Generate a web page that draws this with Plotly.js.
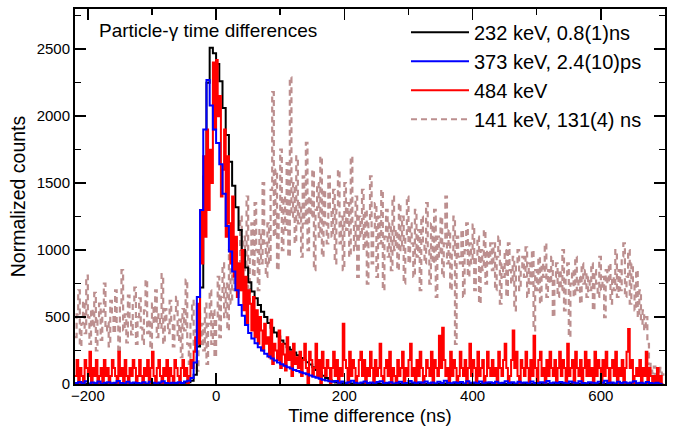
<!DOCTYPE html>
<html>
<head>
<meta charset="utf-8">
<script src="https://cdn.plot.ly/plotly-3.0.1.min.js"></script>
<style>html,body{margin:0;padding:0;background:#fff}#chart{width:673px;height:426px}</style>
</head>
<body>
<div id="chart"></div>
<script>
// Histogram bins: first bin start (ns) and bin widths (ns)
const binStart = -220;
const binWidthSmooth = 5;   // 232 keV and 373 keV spectra
const binWidthFine = 2.5;   // 484 keV and 141 keV spectra

// 232 keV, 0.8(1) ns  (black), 5 ns bins
const counts232 = [
  2,0,3,1,0,2,4,1,0,2,
  1,3,0,2,5,1,0,2,3,1,
  0,2,1,4,2,0,3,1,2,5,
  3,6,4,8,10,14,25,70,280,720,
  1550,2250,2510,2470,2390,2260,2060,1860,1660,1480,
  1320,1150,1000,870,760,690,640,590,540,500,
  455,420,385,355,325,300,275,255,235,215,
  195,180,163,145,125,105,85,62,45,30,
  20,12,7,5,3,2,4,1,2,0,
  2,1,0,3,1,0,2,1,0,1,
  0,2,1,0,3,1,0,2,1,0,
  1,0,2,1,0,3,1,0,2,1,
  0,1,3,0,2,1,0,1,2,0,
  2,0,1,3,0,1,2,0,1,0,
  1,2,0,1,0,3,1,0,2,1,
  0,1,2,0,1,0,2,1,0,3,
  1,0,2,1,0,1,3,0,1,2,
  0,2,1,0,3,1,0,2,1,0,
  1,0,2,0
];

// 373 keV, 2.4(10) ps  (blue), 5 ns bins
const counts373 = [
  8,15,5,20,3,12,6,18,2,10,
  14,4,9,22,7,3,16,5,11,8,
  6,13,2,17,9,4,12,20,7,3,
  10,5,14,8,18,25,45,160,650,1300,
  1900,2270,2080,1900,1800,1640,1420,1180,990,840,
  700,590,510,440,380,340,305,275,250,225,
  205,190,175,160,148,136,125,115,105,97,
  88,80,72,64,55,47,40,32,26,20,
  16,22,10,18,6,14,25,9,4,12,
  18,7,11,3,15,20,6,9,13,2,
  10,17,4,8,22,12,5,14,9,19,
  6,11,3,16,8,24,10,5,13,7,
  15,4,20,9,12,6,18,3,11,14,
  8,16,5,10,21,7,13,4,17,9,
  12,3,19,8,6,14,10,22,5,11,
  7,15,9,4,18,12,6,20,8,3,
  13,10,5,17,9,25,7,12,4,16,
  8,14,6,11,20,5,10,3,15,7,
  4,9,2,6
];

// 484 keV  (red), 2.5 ns bins
const counts484 = [
  60,180,0,120,60,0,180,120,60,240,0,120,60,180,0,60,120,0,180,60,
  120,0,60,180,120,60,0,240,60,120,0,180,60,0,120,60,180,120,0,60,
  180,60,0,120,60,180,0,120,240,60,0,120,180,60,0,120,60,180,0,120,
  60,0,180,120,60,0,120,180,60,120,0,60,180,120,240,350,600,300,1300,900,
  1700,1100,1900,1300,1750,1500,2400,1900,2420,2000,2150,1400,1600,1900,1100,1700,1200,900,1400,800,
  1100,650,900,700,1000,550,800,450,700,600,400,650,350,550,300,500,400,250,450,300,
  350,200,480,150,300,250,180,400,120,300,220,100,350,180,240,60,300,150,200,120,
  240,60,180,300,120,0,240,180,60,120,300,60,180,0,240,120,60,180,120,0,
  120,240,60,180,0,120,60,450,180,120,0,240,60,180,120,0,60,180,240,60,
  180,0,120,60,240,120,0,180,60,120,300,60,0,120,180,60,240,0,120,60,
  0,180,60,120,240,0,120,60,180,300,60,120,0,180,60,240,120,0,60,180,
  120,60,240,0,180,120,60,360,120,420,180,60,120,0,240,60,180,120,0,60,
  240,120,60,180,0,120,300,60,180,120,0,240,60,120,180,0,60,240,120,60,
  180,60,120,0,240,120,60,180,300,120,0,60,180,400,120,240,60,0,180,120,
  60,240,120,0,180,60,360,120,0,180,240,60,120,0,180,60,240,120,60,180,
  0,120,240,60,180,120,0,300,60,120,180,0,240,120,60,180,0,120,240,60,
  180,60,120,0,240,60,180,120,0,180,60,240,120,0,120,180,60,240,0,120,
  60,180,0,120,240,410,120,180,0,60,120,60,180,0,120,60,240,0,120,60,
  0,60,0,120,0,60,0,0
];

// 141 keV, 131(4) ns  (brown, dashed), 2.5 ns bins
const counts141 = [
  350,520,700,280,450,620,380,810,500,300,560,420,680,250,480,600,330,540,750,400,
  460,280,620,520,380,700,450,230,580,850,400,520,310,660,480,370,590,720,300,500,
  640,420,300,550,780,380,480,260,600,450,700,350,520,420,820,300,560,470,380,620,
  450,280,520,650,330,480,200,560,400,780,300,150,480,620,250,400,100,550,300,450,
  250,600,150,450,700,300,550,200,480,800,350,650,900,500,750,400,1000,600,850,700,
  1050,650,900,1250,700,1100,850,1400,600,950,1200,800,1350,1000,700,1150,900,1500,1050,800,
  1200,900,1450,2180,1100,1600,850,1300,1750,1000,1400,1150,1650,950,2290,1250,1500,1050,1700,1200,
  1350,950,1550,1200,1800,1000,1400,1250,1600,850,1300,1500,1100,1700,950,1450,1200,1050,1550,1300,
  1100,1450,900,1300,1600,1050,1250,850,1500,1150,1350,950,1700,1200,1000,1400,800,1250,1100,1450,
  1000,1300,750,1200,1550,900,1150,1350,800,1250,1050,1450,700,1100,1300,950,1200,850,1400,1000,
  1150,850,1350,1000,1250,750,1100,1400,900,1200,1050,800,1300,950,1150,700,1250,1050,900,1350,
  1000,750,1200,900,1300,650,1100,950,1250,800,1050,1400,900,1150,700,1000,1250,300,1100,950,
  900,1150,650,1000,1200,800,1050,900,1190,700,950,1100,600,1000,850,1150,750,1000,900,1050,
  850,1050,700,950,1100,600,900,800,1000,650,1050,850,750,950,550,900,1000,700,850,950,
  800,1020,650,900,750,1000,400,850,700,950,600,900,800,1050,650,850,750,950,500,800,
  900,650,850,700,1000,550,800,900,350,750,850,650,950,700,800,600,900,750,850,650,
  800,700,900,550,850,750,650,950,700,800,500,850,750,900,600,800,700,1000,650,850,
  700,950,1050,650,800,1000,600,900,750,550,850,500,700,450,550,400,500,300,150,100,
  80,130,60,110,40,120,70,100
];

const seriesNames = ['232 keV, 0.8(1)ns', '373 keV, 2.4(10)ps', '484 keV', '141 keV, 131(4) ns'];
const titleText = 'Particle-\u03b3 time differences';
const xTitle = 'Time difference (ns)';
const yTitle = 'Normalized counts';

const FONT = 'Liberation Sans, Arial, Helvetica, sans-serif';

function trace(y, dx, name, color, dash, rank, width) {
  return {
    type: 'scatter', mode: 'lines', x0: binStart, dx: dx, y: y, name: name,
    line: {color: color, width: width, dash: dash, shape: 'hv'},
    legendrank: rank, legendgroup: name, hoverinfo: 'skip'
  };
}

const data = [
  trace(counts141, binWidthFine, seriesNames[3], '#bc8f8f', '6px,4px', 4, 2.2),
  trace(counts232, binWidthSmooth, seriesNames[0], '#000000', 'solid', 1, 2),
  trace(counts484, binWidthFine, seriesNames[2], '#ff0000', 'solid', 3, 2),
  trace(counts373, binWidthSmooth, seriesNames[1], '#0000ff', 'solid', 2, 2)
];

const axisCommon = {
  showline: true, linewidth: 2, linecolor: '#000', mirror: 'allticks',
  ticks: 'inside', ticklen: 11, tickwidth: 1.5, tickcolor: '#000',
  showgrid: false, zeroline: false,
  tickfont: {family: FONT, size: 15, color: '#000'}
};

const layout = {
  width: 673, height: 426,
  margin: {l: 75, r: 8, t: 9, b: 42},
  paper_bgcolor: '#fff', plot_bgcolor: '#fff',
  font: {family: FONT, color: '#000'},
  showlegend: true,
  legend: {
    x: 0.561, y: 0.99, xanchor: 'left', yanchor: 'top',
    bgcolor: 'rgba(0,0,0,0)', borderwidth: 0,
    font: {family: FONT, size: 20, color: '#000'},
    traceorder: 'grouped', tracegroupgap: 0, itemwidth: 58
  },
  xaxis: Object.assign({}, axisCommon, {
    range: [-220, 700], tickmode: 'linear', tick0: -200, dtick: 200,
    ticklabelstandoff: -3,
    minor: {ticks: 'inside', ticklen: 6, tickwidth: 1.5, tickcolor: '#000', dtick: 100, tick0: -200, showgrid: false},
    title: {text: xTitle, font: {family: FONT, size: 18.5, color: '#000'}, standoff: 6}
  }),
  yaxis: Object.assign({}, axisCommon, {
    range: [0, 2800], tickmode: 'linear', tick0: 0, dtick: 500,
    minor: {ticks: 'inside', ticklen: 6, tickwidth: 1.5, tickcolor: '#000', dtick: 250, tick0: 0, showgrid: false},
    title: {text: yTitle, font: {family: FONT, size: 19.5, color: '#000'}, standoff: 6}
  }),
  annotations: [{
    xref: 'paper', yref: 'paper', x: 0.037, y: 0.944, xanchor: 'left', yanchor: 'middle',
    text: titleText, showarrow: false, font: {family: FONT, size: 19, color: '#000'}
  }]
};

Plotly.newPlot('chart', data, layout, {displayModeBar: false, staticPlot: true});
</script>
</body>
</html>
